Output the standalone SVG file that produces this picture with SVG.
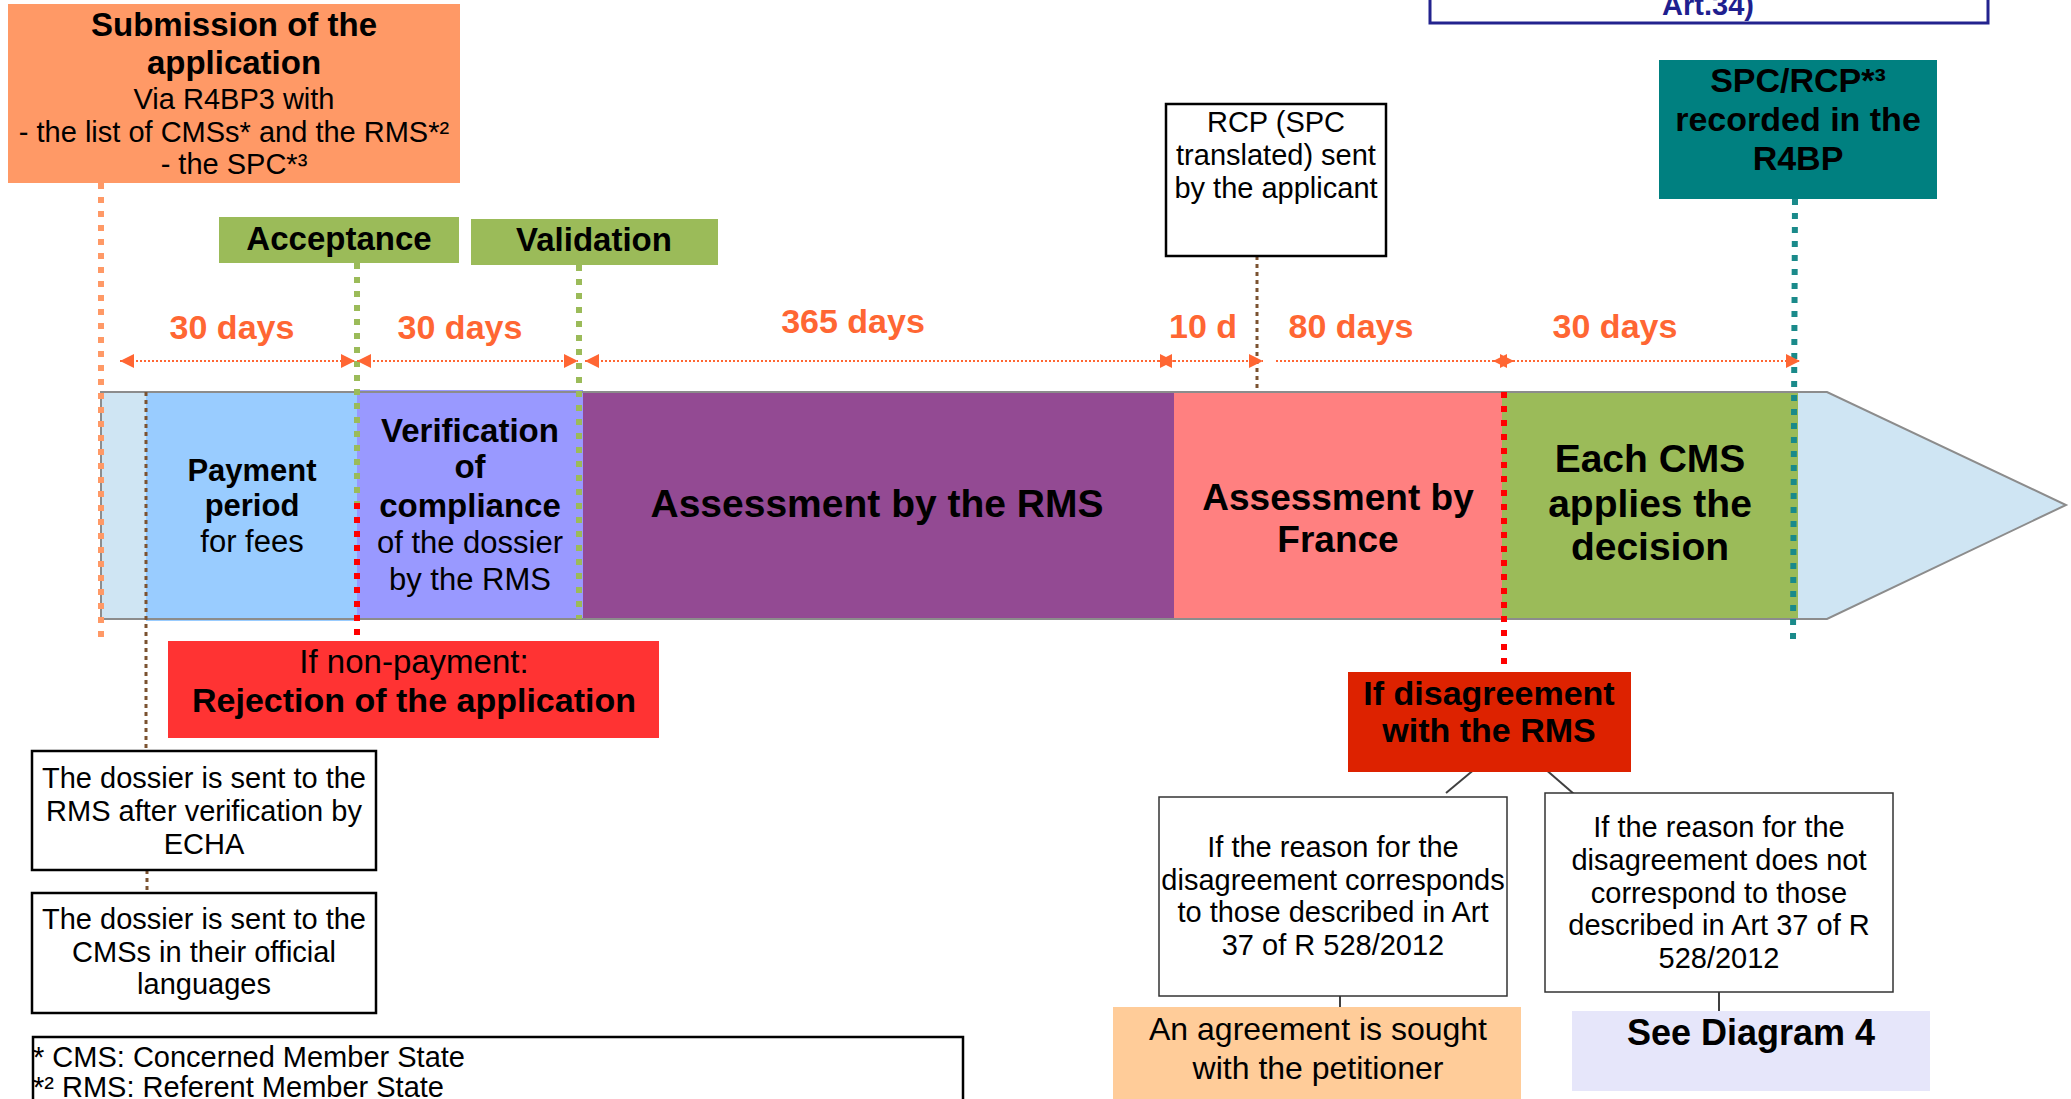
<svg xmlns="http://www.w3.org/2000/svg" width="2071" height="1099" viewBox="0 0 2071 1099">
<style>
text{font-family:"Liberation Sans",Arial,sans-serif;fill:#000}
.c{text-anchor:middle}
.b{font-weight:bold}
.dim{font-weight:bold;font-size:34px;fill:#FF6633;text-anchor:middle}
.box{fill:#fff;stroke:#000;stroke-width:2.5}
.thin{fill:#fff;stroke:#333;stroke-width:1.5}
.vd{fill:none;stroke-width:6;stroke-dasharray:6 8}
.br{fill:none;stroke:#7B5230;stroke-width:3;stroke-dasharray:4 4}
.dl{fill:none;stroke:#FF6633;stroke-width:2;stroke-dasharray:2 2}
.cn{stroke:#404040;stroke-width:2}
</style>
<defs>
<marker id="ah" markerUnits="userSpaceOnUse" markerWidth="14" markerHeight="14" refX="14" refY="7" orient="auto-start-reverse">
<path d="M0,0 L14,7 L0,14 z" fill="#FF6633"/>
</marker>
</defs>
<rect width="2071" height="1099" fill="#fff"/>

<g id="art34">
<rect x="1430" y="-60" width="558" height="83" fill="#fff" stroke="#23238E" stroke-width="3"/>
<text x="1708" y="15" class="c b" font-size="29" style="fill:#1F1F8F">Art.34)</text>
</g>

<g id="timeline">
<polygon points="101,392 1827,392 2066,505 1827,619 101,619" fill="#CFE5F3"/>
<rect x="146" y="392" width="211" height="229" fill="#99CCFF"/>
<rect x="357" y="390" width="226" height="229" fill="#9999FF"/>
<rect x="583" y="392" width="591" height="227" fill="#934A93"/>
<rect x="1174" y="392" width="328" height="227" fill="#FF8080"/>
<rect x="1502" y="393" width="296" height="226" fill="#9BBB59"/>
<polygon points="101,392 1827,392 2066,505 1827,619 101,619" fill="none" stroke="#8C8C8C" stroke-width="2"/>
</g>

<g id="payment">
<text x="252" y="481" class="c b" font-size="31">Payment</text>
<text x="252" y="516" class="c b" font-size="31">period</text>
<text x="252" y="552" class="c" font-size="31">for fees</text>
</g>
<g id="verification">
<text x="470" y="442" class="c b" font-size="33">Verification</text>
<text x="470" y="478" class="c b" font-size="33">of</text>
<text x="470" y="517" class="c b" font-size="33">compliance</text>
<text x="470" y="553" class="c" font-size="31">of the dossier</text>
<text x="470" y="590" class="c" font-size="31">by the RMS</text>
</g>
<g id="assess-rms">
<text x="877" y="517" class="c b" font-size="39">Assessment by the RMS</text>
</g>
<g id="assess-france">
<text x="1338" y="510" class="c b" font-size="37">Assessment by</text>
<text x="1338" y="552" class="c b" font-size="37">France</text>
</g>
<g id="each-cms">
<text x="1650" y="472" class="c b" font-size="39">Each CMS</text>
<text x="1650" y="517" class="c b" font-size="39">applies the</text>
<text x="1650" y="560" class="c b" font-size="39">decision</text>
</g>

<g id="connectors">
<line x1="101" y1="183" x2="101" y2="640" class="vd" stroke="#FF9966"/>
<line x1="357" y1="263" x2="357" y2="503" class="vd" stroke="#9BBB59"/>
<line x1="357" y1="503" x2="357" y2="647" class="vd" stroke="#FF0000"/>
<line x1="579" y1="265" x2="579" y2="619" class="vd" stroke="#9BBB59"/>
<line x1="1504" y1="392" x2="1504" y2="672" class="vd" stroke="#FF0000"/>
<line x1="1795" y1="199" x2="1793" y2="640" class="vd" stroke="#1A8A8A"/>
<line x1="146" y1="392" x2="146" y2="751" class="br"/>
<line x1="147" y1="870" x2="147" y2="893" class="br"/>
<line x1="1257" y1="256" x2="1257" y2="392" class="br"/>
<line x1="120" y1="361" x2="355" y2="361" class="dl" marker-start="url(#ah)" marker-end="url(#ah)"/>
<line x1="357" y1="361" x2="578" y2="361" class="dl" marker-start="url(#ah)" marker-end="url(#ah)"/>
<line x1="585" y1="361" x2="1174" y2="361" class="dl" marker-start="url(#ah)" marker-end="url(#ah)"/>
<line x1="1158" y1="361" x2="1263" y2="361" class="dl" marker-start="url(#ah)" marker-end="url(#ah)"/>
<line x1="1276" y1="361" x2="1514" y2="361" class="dl" marker-end="url(#ah)"/>
<line x1="1493" y1="361" x2="1800" y2="361" class="dl" marker-start="url(#ah)" marker-end="url(#ah)"/>
<line x1="1476" y1="768" x2="1446" y2="793" class="cn"/>
<line x1="1544" y1="768" x2="1574" y2="794" class="cn"/>
<line x1="1340" y1="996" x2="1340" y2="1007" class="cn"/>
<line x1="1719" y1="992" x2="1719" y2="1011" class="cn"/>
</g>

<g id="durations">
<text x="232" y="339" class="dim">30 days</text>
<text x="460" y="339" class="dim">30 days</text>
<text x="853" y="333" class="dim">365 days</text>
<text x="1203" y="338" class="dim">10 d</text>
<text x="1351" y="338" class="dim">80 days</text>
<text x="1615" y="338" class="dim">30 days</text>
</g>

<g id="submission">
<rect x="8" y="4" width="452" height="179" fill="#FF9966"/>
<text x="234" y="36" class="c b" font-size="33">Submission of the</text>
<text x="234" y="74" class="c b" font-size="33">application</text>
<text x="234" y="109" class="c" font-size="29">Via R4BP3 with</text>
<text x="234" y="142" class="c" font-size="29">- the list of CMSs* and the RMS*²</text>
<text x="234" y="174" class="c" font-size="29">- the SPC*³</text>
</g>

<g id="acceptance">
<rect x="219" y="217" width="240" height="46" fill="#9BBB59"/>
<text x="339" y="250" class="c b" font-size="33">Acceptance</text>
</g>
<g id="validation">
<rect x="471" y="219" width="247" height="46" fill="#9BBB59"/>
<text x="594" y="251" class="c b" font-size="33">Validation</text>
</g>

<g id="rcp">
<rect x="1166" y="104" width="220" height="152" class="box"/>
<text x="1276" y="132" class="c" font-size="29">RCP (SPC</text>
<text x="1276" y="165" class="c" font-size="29">translated) sent</text>
<text x="1276" y="198" class="c" font-size="29">by the applicant</text>
</g>

<g id="spc-recorded">
<rect x="1659" y="60" width="278" height="139" fill="#008080"/>
<text x="1798" y="92" class="c b" font-size="34">SPC/RCP*³</text>
<text x="1798" y="131" class="c b" font-size="34">recorded in the</text>
<text x="1798" y="170" class="c b" font-size="34">R4BP</text>
</g>

<g id="rejection">
<rect x="168" y="641" width="491" height="97" fill="#FF3333"/>
<text x="414" y="673" class="c" font-size="33">If non-payment:</text>
<text x="414" y="712" class="c b" font-size="34">Rejection of the application</text>
</g>

<g id="dossier-rms">
<rect x="32" y="751" width="344" height="119" class="box" stroke-width="3"/>
<text x="204" y="788" class="c" font-size="29">The dossier is sent to the</text>
<text x="204" y="821" class="c" font-size="29">RMS after verification by</text>
<text x="204" y="854" class="c" font-size="29">ECHA</text>
</g>
<g id="dossier-cms">
<rect x="32" y="893" width="344" height="120" class="box" stroke-width="3"/>
<text x="204" y="929" class="c" font-size="29">The dossier is sent to the</text>
<text x="204" y="962" class="c" font-size="29">CMSs in their official</text>
<text x="204" y="994" class="c" font-size="29">languages</text>
</g>

<g id="footnotes">
<rect x="33" y="1037" width="930" height="100" class="box" stroke-width="3"/>
<text x="33" y="1067" font-size="29">* CMS: Concerned Member State</text>
<text x="33" y="1097" font-size="29">*² RMS: Referent Member State</text>
</g>

<g id="disagreement">
<rect x="1348" y="672" width="283" height="100" fill="#DD2200"/>
<text x="1489" y="705" class="c b" font-size="34">If disagreement</text>
<text x="1489" y="742" class="c b" font-size="34">with the RMS</text>
</g>

<g id="reason-corresponds">
<rect x="1159" y="797" width="348" height="199" class="thin"/>
<text x="1333" y="857" class="c" font-size="29">If the reason for the</text>
<text x="1333" y="890" class="c" font-size="29">disagreement corresponds</text>
<text x="1333" y="922" class="c" font-size="29">to those described in Art</text>
<text x="1333" y="955" class="c" font-size="29">37 of R 528/2012</text>
</g>

<g id="reason-not">
<rect x="1545" y="793" width="348" height="199" class="thin"/>
<text x="1719" y="837" class="c" font-size="29">If the reason for the</text>
<text x="1719" y="870" class="c" font-size="29">disagreement does not</text>
<text x="1719" y="903" class="c" font-size="29">correspond to those</text>
<text x="1719" y="935" class="c" font-size="29">described in Art 37 of R</text>
<text x="1719" y="968" class="c" font-size="29">528/2012</text>
</g>

<g id="agreement">
<rect x="1113" y="1007" width="408" height="100" fill="#FFCC99"/>
<text x="1318" y="1040" class="c" font-size="32">An agreement is sought</text>
<text x="1318" y="1079" class="c" font-size="32">with the petitioner</text>
</g>

<g id="diagram4">
<rect x="1572" y="1011" width="358" height="80" fill="#E6E6FA"/>
<text x="1751" y="1045" class="c b" font-size="36">See Diagram 4</text>
</g>
</svg>
